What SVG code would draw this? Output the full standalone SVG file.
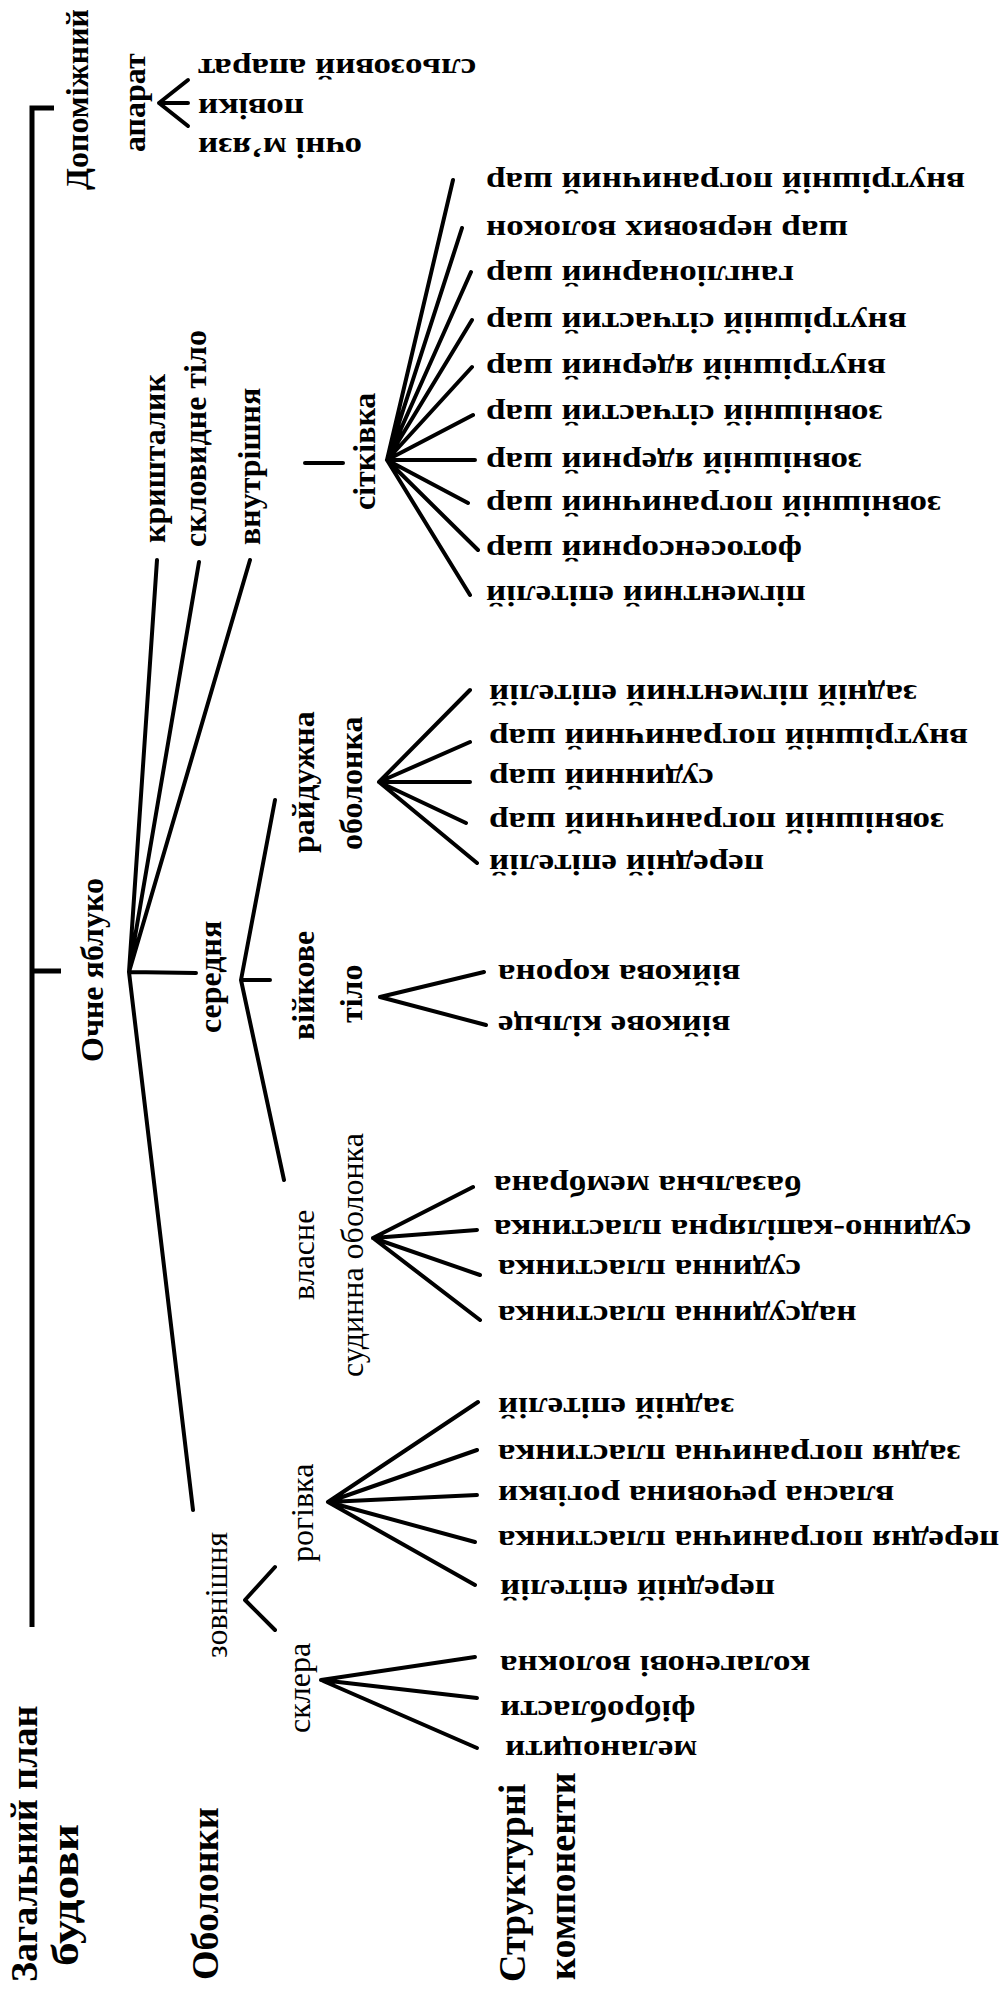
<svg xmlns="http://www.w3.org/2000/svg" width="1007" height="1993" viewBox="0 0 1007 1993">
<style>
text { font-family: "Liberation Serif", "Times New Roman", serif; fill: #000; }
.v { font-size: 32px; font-weight: bold; }
.vn { font-size: 32px; font-weight: normal; }
.h { font-size: 38px; font-weight: bold; }
.leaf { font-size: 30px; font-weight: bold; text-anchor: end; }
.c { stroke: #000; stroke-width: 4; fill: none; stroke-linecap: round; stroke-linejoin: round; }
.b { stroke: #000; stroke-width: 5; fill: none; stroke-linecap: butt; stroke-linejoin: miter; }
</style>
<rect width="1007" height="1993" fill="#fff"/>

<g id="connectors">
  <path class="b" d="M54,108 H32 V1627 M32,971 H61"/>
  <path class="c" d="M188,80 L159,103 L188,126 M159,103 H188"/>
  <path class="c" d="M129,972 L157,560 M129,972 L199,562 M129,972 L250,560 M129,972 L196,973 M129,972 L193,1510"/>
  <path class="c" d="M305,463 H343"/>
  <path class="c" d="M387,460 L453,180 M387,460 L462,228 M387,460 L471,272 M387,460 L472,320 M387,460 L472,367 M387,460 L473,415 M387,460 L475,460 M387,460 L468,503 M387,460 L478,550 M387,460 L470,595"/>
  <path class="c" d="M241,980 L275,800 M241,980 L270,980 M241,980 L284,1180"/>
  <path class="c" d="M379,782 L470,690 M379,782 L470,742 M379,782 L470,782 M379,782 L466,823 M379,782 L477,863"/>
  <path class="c" d="M380,997 L484,972 M380,997 L486,1025"/>
  <path class="c" d="M373,1238 L473,1187 M373,1238 L477,1230 M373,1238 L480,1275 M373,1238 L480,1320"/>
  <path class="c" d="M275,1567 L245,1600 L275,1630"/>
  <path class="c" d="M328,1502 L478,1402 M328,1502 L477,1450 M328,1502 L477,1495 M328,1502 L475,1542 M328,1502 L475,1585"/>
  <path class="c" d="M321,1680 L475,1657 M321,1680 L477,1698 M321,1680 L477,1748"/>
</g>

<g id="header-plan">
  <text class="h" x="37" y="1982" transform="rotate(-90 37 1982)">Загальний план</text>
  <text class="h" x="78" y="1966" transform="rotate(-90 78 1966)" textLength="142" lengthAdjust="spacingAndGlyphs">будови</text>
</g>
<g id="header-obolonky">
  <text class="h" x="218" y="1980" transform="rotate(-90 218 1980)">Оболонки</text>
</g>
<g id="header-struktura">
  <text class="h" x="525" y="1982" transform="rotate(-90 525 1982)">Структурні</text>
  <text class="h" x="575" y="1980" transform="rotate(-90 575 1980)">компоненти</text>
</g>

<g id="node-dopomizhnyi">
  <text class="v" x="88" y="190" transform="rotate(-90 88 190)">Допоміжний</text>
  <text class="v" x="145" y="152" transform="rotate(-90 145 152)">апарат</text>
</g>
<g id="leaf-dop-1"><text class="leaf" transform="matrix(-1.17 0 0 -1 198 59)">сльозовий апарат</text></g>
<g id="leaf-dop-2"><text class="leaf" transform="matrix(-1.17 0 0 -1 198 99)">повіки</text></g>
<g id="leaf-dop-3"><text class="leaf" transform="matrix(-1.17 0 0 -1 198 138)">очні м’язи</text></g>

<g id="node-ochne"><text class="v" x="103" y="1062" transform="rotate(-90 103 1062)">Очне яблуко</text></g>
<g id="node-kryshtalyk"><text class="v" x="165" y="543" transform="rotate(-90 165 543)">кришталик</text></g>
<g id="node-sklovydne"><text class="v" x="206" y="547" transform="rotate(-90 206 547)">скловидне тіло</text></g>
<g id="node-vnutrishnia"><text class="v" x="260" y="545" transform="rotate(-90 260 545)">внутрішня</text></g>
<g id="node-sitkivka"><text class="v" x="375" y="510" transform="rotate(-90 375 510)">сітківка</text></g>

<g id="leaves-sitkivka">
  <text class="leaf" transform="matrix(-1.17 0 0 -1 486 173)">внутрішній пограничний шар</text>
  <text class="leaf" transform="matrix(-1.17 0 0 -1 486 221)">шар нервових волокон</text>
  <text class="leaf" transform="matrix(-1.17 0 0 -1 486 266)">гангліонарний шар</text>
  <text class="leaf" transform="matrix(-1.17 0 0 -1 486 313)">внутрішній сітчастий шар</text>
  <text class="leaf" transform="matrix(-1.17 0 0 -1 486 359)">внутрішній ядерний шар</text>
  <text class="leaf" transform="matrix(-1.17 0 0 -1 486 405)">зовнішній сітчастий шар</text>
  <text class="leaf" transform="matrix(-1.17 0 0 -1 486 453)">зовнішній ядерний шар</text>
  <text class="leaf" transform="matrix(-1.17 0 0 -1 486 496)">зовнішній пограничний шар</text>
  <text class="leaf" transform="matrix(-1.17 0 0 -1 486 541)">фотосенсорний шар</text>
  <text class="leaf" transform="matrix(-1.17 0 0 -1 486 586)">пігментний епітелій</text>
</g>

<g id="node-serednia"><text class="v" x="221" y="1033" transform="rotate(-90 221 1033)">середня</text></g>

<g id="node-raiduzhna">
  <text class="v" x="314" y="853" transform="rotate(-90 314 853)">райдужна</text>
  <text class="v" x="362" y="850" transform="rotate(-90 362 850)">оболонка</text>
</g>
<g id="leaves-raiduzhna">
  <text class="leaf" transform="matrix(-1.17 0 0 -1 489 685)">задній пігментний епітелій</text>
  <text class="leaf" transform="matrix(-1.17 0 0 -1 489 729)">внутрішній пограничний шар</text>
  <text class="leaf" transform="matrix(-1.17 0 0 -1 489 769)">судинний шар</text>
  <text class="leaf" transform="matrix(-1.17 0 0 -1 489 813)">зовнішній пограничний шар</text>
  <text class="leaf" transform="matrix(-1.17 0 0 -1 489 855)">передній епітелій</text>
</g>

<g id="node-viikove">
  <text class="v" x="314" y="1040" transform="rotate(-90 314 1040)">війкове</text>
  <text class="v" x="362" y="1023" transform="rotate(-90 362 1023)">тіло</text>
</g>
<g id="leaves-viikove">
  <text class="leaf" transform="matrix(-1.17 0 0 -1 498 965)">війкова корона</text>
  <text class="leaf" transform="matrix(-1.17 0 0 -1 498 1016)">війкове кільце</text>
</g>

<g id="node-vlasne">
  <text class="vn" x="314" y="1300" transform="rotate(-90 314 1300)">власне</text>
  <text class="vn" x="363" y="1377" transform="rotate(-90 363 1377)">судинна оболонка</text>
</g>
<g id="leaves-vlasne">
  <text class="leaf" transform="matrix(-1.17 0 0 -1 494 1176)">базальна мембрана</text>
  <text class="leaf" transform="matrix(-1.17 0 0 -1 494 1220)">судинно-капілярна пластинка</text>
  <text class="leaf" transform="matrix(-1.17 0 0 -1 498 1260)">судинна пластинка</text>
  <text class="leaf" transform="matrix(-1.17 0 0 -1 498 1306)">надсудинна пластинка</text>
</g>

<g id="node-zovnishnia"><text class="vn" x="227" y="1658" transform="rotate(-90 227 1658)">зовнішня</text></g>
<g id="node-rogivka"><text class="vn" x="313" y="1562" transform="rotate(-90 313 1562)">рогівка</text></g>
<g id="leaves-rogivka">
  <text class="leaf" transform="matrix(-1.17 0 0 -1 498 1398)">задній епітелій</text>
  <text class="leaf" transform="matrix(-1.17 0 0 -1 498 1445)">задня погранична пластинка</text>
  <text class="leaf" transform="matrix(-1.17 0 0 -1 498 1486)">власна речовина рогівки</text>
  <text class="leaf" transform="matrix(-1.17 0 0 -1 498 1531)">передня погранична пластинка</text>
  <text class="leaf" transform="matrix(-1.17 0 0 -1 500 1580)">передній епітелій</text>
</g>

<g id="node-sklera"><text class="vn" x="310" y="1733" transform="rotate(-90 310 1733)">склера</text></g>
<g id="leaves-sklera">
  <text class="leaf" transform="matrix(-1.17 0 0 -1 500 1656)">колагенові волокна</text>
  <text class="leaf" transform="matrix(-1.17 0 0 -1 500 1701)">фібробласти</text>
  <text class="leaf" transform="matrix(-1.17 0 0 -1 505 1741)">меланоцити</text>
</g>
</svg>
